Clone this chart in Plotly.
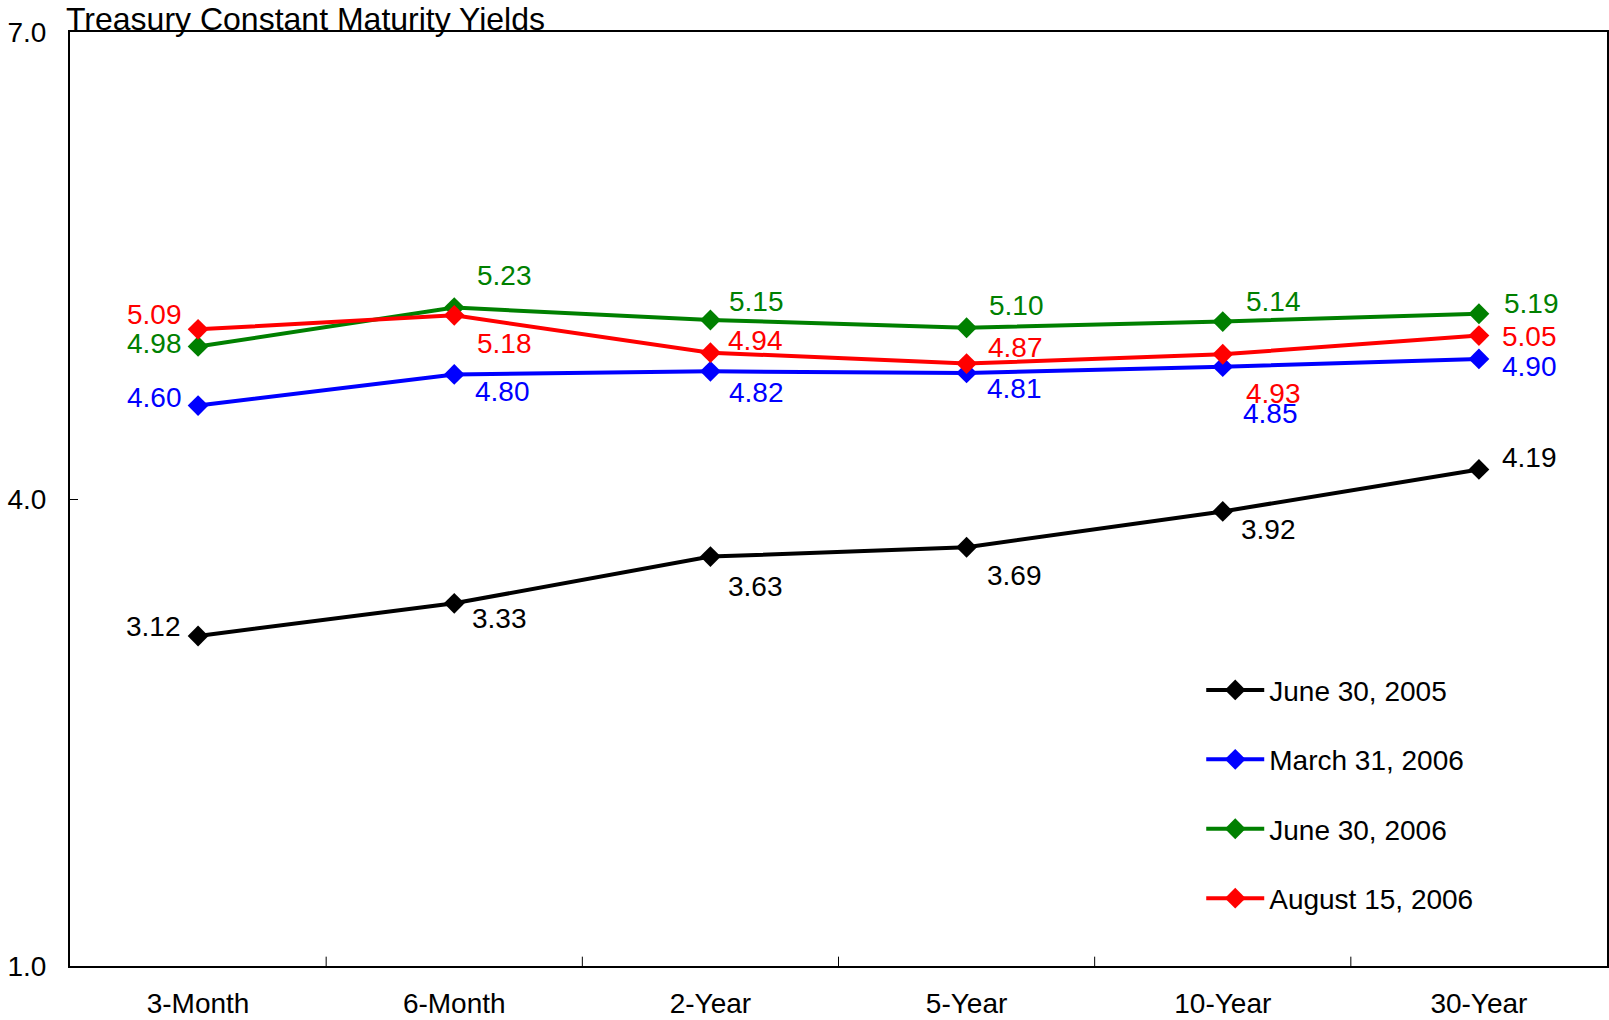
import plotly.graph_objects as go

# Treasury constant maturity yields (%) by maturity, for four dates
maturities = ["3-Month", "6-Month", "2-Year", "5-Year", "10-Year", "30-Year"]
dates = ["June 30, 2005", "March 31, 2006", "June 30, 2006", "August 15, 2006"]
yields_jun2005 = [3.12, 3.33, 3.63, 3.69, 3.92, 4.19]
yields_mar2006 = [4.60, 4.80, 4.82, 4.81, 4.85, 4.90]
yields_jun2006 = [4.98, 5.23, 5.15, 5.10, 5.14, 5.19]
yields_aug2006 = [5.09, 5.18, 4.94, 4.87, 4.93, 5.05]
y_ticks = [1.0, 4.0, 7.0]

series = [yields_jun2005, yields_mar2006, yields_jun2006, yields_aug2006]
colors = ["#000000", "#0000FF", "#008000", "#FF0000"]

# pixel offsets of each value label from its marker (dx right, dy down)
label_offsets = [
    [(-43, -9), (44, 15), (44, 29), (47, 28), (45, 18), (49, -12)],
    [(-42, -8), (47, 17), (45, 21), (47, 15), (47, 46), (49, 7)],
    [(-42, -3), (49, -31), (45, -18), (49, -22), (49, -20), (51, -10)],
    [(-42, -14), (49, 27), (44, -12), (48, -16), (49, 38), (49, 1)],
]

FONT = "Liberation Sans, Arial, sans-serif"
x_idx = list(range(len(maturities)))

fig = go.Figure()
for name, vals, col in zip(dates, series, colors):
    fig.add_trace(go.Scatter(
        x=x_idx, y=vals, name=name, mode="lines+markers",
        legendgroup=name,
        line=dict(color=col, width=4),
        marker=dict(symbol="diamond", size=16, color=col),
    ))

annotations = []
for vals, col, offs in zip(series, colors, label_offsets):
    for i, (v, (dx, dy)) in enumerate(zip(vals, offs)):
        annotations.append(dict(
            x=i, y=v, xref="x", yref="y", text=f"{v:.2f}", showarrow=False,
            xanchor="center", yanchor="middle",
            xshift=dx * 1.026, yshift=-dy * 1.026,
            font=dict(family=FONT, size=28, color=col),
        ))

annotations.append(dict(
    x=0, y=1, xref="paper", yref="paper", xanchor="left", yanchor="bottom",
    xshift=-6, yshift=-7, showarrow=False,
    text="Treasury Constant Maturity Yields",
    font=dict(family=FONT, size=32, color="#000000"),
))

fig.update_layout(
    width=1609, height=1020,
    margin=dict(l=70, r=2, t=32, b=54),
    paper_bgcolor="white", plot_bgcolor="white",
    font=dict(family=FONT, size=28, color="#000000"),
    showlegend=True,
    legend=dict(
        x=0.736, y=0.322, xanchor="left", yanchor="top",
        bgcolor="rgba(0,0,0,0)", itemwidth=58, tracegroupgap=30,
        font=dict(family=FONT, size=28, color="#000000"),
    ),
    annotations=annotations,
)

fig.update_xaxes(
    type="linear", range=[-0.5, 5.5], automargin=False,
    tickmode="array", tickvals=x_idx, ticktext=maturities,
    ticks="", showline=True, linecolor="#000000", linewidth=2, mirror=True,
    showgrid=False, zeroline=False, ticklabelstandoff=11,
    tickfont=dict(family=FONT, size=28),
)
# boundary ticks between maturity categories
for b in [0.5, 1.5, 2.5, 3.5, 4.5]:
    fig.add_shape(type="line", xref="x", yref="paper", x0=b, x1=b, y0=0, y1=0.01,
                  line=dict(color="#000000", width=1))

fig.update_yaxes(
    range=[1, 7], tickmode="array", tickvals=y_ticks, automargin=False,
    ticktext=[f"{t:.1f}" for t in y_ticks],
    ticks="inside", ticklen=8, tickcolor="#000000",
    showline=True, linecolor="#000000", linewidth=2, mirror=True,
    showgrid=False, zeroline=False, ticklabelstandoff=16,
    tickfont=dict(family=FONT, size=28),
)

fig.write_html("out.html")
